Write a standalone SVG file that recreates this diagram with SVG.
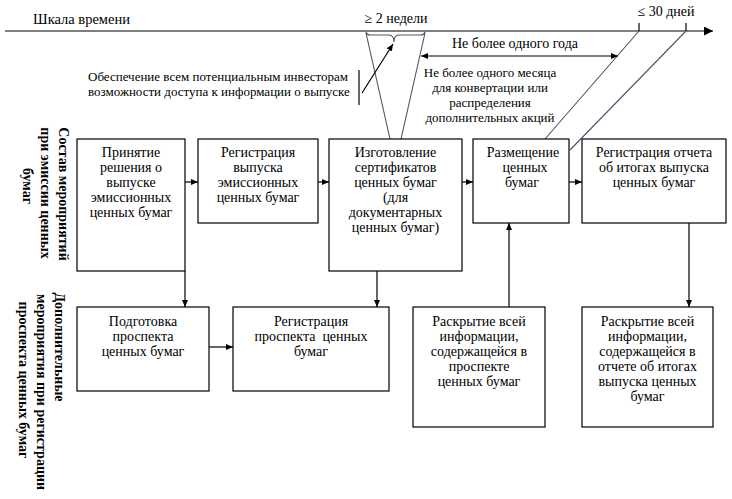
<svg xmlns="http://www.w3.org/2000/svg" width="732" height="499" viewBox="0 0 732 499">
<defs>
<marker id="ah" markerWidth="7" markerHeight="6" refX="7" refY="3" orient="auto" markerUnits="userSpaceOnUse"><path d="M0,0 L7,3 L0,6 z" fill="#000"/></marker>
<marker id="ahs" markerWidth="7" markerHeight="6" refX="0" refY="3" orient="auto" markerUnits="userSpaceOnUse"><path d="M7,0 L0,3 L7,6 z" fill="#000"/></marker>
<marker id="big" markerWidth="9" markerHeight="9" refX="9" refY="4.5" orient="auto" markerUnits="userSpaceOnUse"><path d="M0,0 L9,4.5 L0,9 z" fill="#000"/></marker>
<style>
.b{fill:#fff;stroke:#000;stroke-width:1.2}
.t{font-family:"Liberation Serif","Times New Roman",serif;font-size:14px;fill:#000;text-anchor:middle}
.s{font-family:"Liberation Serif","Times New Roman",serif;font-size:13px;fill:#000}
.v{font-family:"Liberation Serif","Times New Roman",serif;font-size:14px;font-weight:bold;fill:#000;text-anchor:middle}
.c{fill:none;stroke:#000;stroke-width:1.2}
.g{fill:none;stroke:#5a4c66;stroke-width:1.1}
</style>
</defs>
<g id="timeline">
<line class="c" x1="5" y1="31" x2="713" y2="31" marker-end="url(#big)"/>
<line class="c" x1="639" y1="23" x2="639" y2="31"/>
<line class="c" x1="686" y1="23" x2="686" y2="31"/>
<text class="s" x="33" y="24" style="font-size:14.5px">Шкала времени</text>
<text class="s" x="396" y="23" style="font-size:14px;text-anchor:middle">≥ 2 недели</text>
<text class="s" x="666" y="16" style="font-size:14px;text-anchor:middle">≤ 30 дней</text>
</g>
<g id="annotations">
<line class="g" x1="366" y1="33" x2="390" y2="139"/>
<line class="g" x1="425" y1="33" x2="401" y2="139"/>
<path class="g" d="M366,32 Q367,35 370,35 L389,35 Q394,35 394,42 Q394,35 399,35 L421,35 Q424,35 425,32"/>
<line class="g" x1="639" y1="31" x2="545" y2="139"/>
<line class="g" x1="686" y1="31" x2="570" y2="150"/>
<line class="c" x1="362" y1="93" x2="393" y2="44" marker-end="url(#ah)"/>
<line class="c" x1="359" y1="70" x2="359" y2="105"/>
<line class="c" x1="421" y1="56" x2="618" y2="56" marker-start="url(#ahs)" marker-end="url(#ah)"/>
<text class="s" x="515" y="48" style="font-size:14px;text-anchor:middle">Не более одного года</text>
<text class="s" x="88" y="81">Обеспечение всем потенциальным инвесторам</text>
<text class="s" x="88" y="96">возможности доступа к информации о выпуске</text>
<text class="s" x="490" y="77" style="text-anchor:middle">Не более одного месяца</text>
<text class="s" x="490" y="92" style="text-anchor:middle">для конвертации или</text>
<text class="s" x="490" y="107" style="text-anchor:middle">распределения</text>
<text class="s" x="490" y="122" style="text-anchor:middle">дополнительных акций</text>
</g>
<g id="label-top">
<text class="v" transform="translate(59,194) rotate(90)">Состав мероприятий</text>
<text class="v" transform="translate(41,193) rotate(90)">при эмиссии ценных</text>
<text class="v" transform="translate(23,186) rotate(90)">бумаг</text>
</g>
<g id="label-bottom">
<text class="v" transform="translate(55,347) rotate(90)">Дополнительные</text>
<text class="v" transform="translate(37,392) rotate(90)">мероприятия при регистрации</text>
<text class="v" transform="translate(19,380) rotate(90)">проспекта ценных бумаг</text>
</g>
<g id="connectors">
<line class="c" x1="185" y1="182" x2="198" y2="182" marker-end="url(#ah)"/>
<line class="c" x1="318" y1="182" x2="329" y2="182" marker-end="url(#ah)"/>
<line class="c" x1="462" y1="182" x2="473" y2="182" marker-end="url(#ah)"/>
<line class="c" x1="569" y1="182" x2="582" y2="182" marker-end="url(#ah)"/>
<line class="c" x1="185" y1="271" x2="185" y2="307" marker-end="url(#ah)"/>
<line class="c" x1="377" y1="271" x2="377" y2="307" marker-end="url(#ah)"/>
<line class="c" x1="209" y1="347" x2="233" y2="347" marker-end="url(#ah)"/>
<line class="c" x1="509" y1="307" x2="509" y2="223" marker-end="url(#ah)"/>
<line class="c" x1="689" y1="223" x2="689" y2="307" marker-end="url(#ah)"/>
</g>
<g id="n1">
<rect class="b" x="77" y="139" width="108" height="132"/>
<text class="t" x="131" y="157">Принятие</text>
<text class="t" x="131" y="172">решения о</text>
<text class="t" x="131" y="187">выпуске</text>
<text class="t" x="131" y="202">эмиссионных</text>
<text class="t" x="131" y="217">ценных бумаг</text>
</g>
<g id="n2">
<rect class="b" x="198" y="139" width="120" height="84"/>
<text class="t" x="258" y="157">Регистрация</text>
<text class="t" x="258" y="172">выпуска</text>
<text class="t" x="258" y="187">эмиссионных</text>
<text class="t" x="258" y="202">ценных бумаг</text>
</g>
<g id="n3">
<rect class="b" x="329" y="139" width="133" height="132"/>
<text class="t" x="395.5" y="157">Изготовление</text>
<text class="t" x="395.5" y="172">сертификатов</text>
<text class="t" x="395.5" y="187">ценных бумаг</text>
<text class="t" x="395.5" y="202">(для</text>
<text class="t" x="395.5" y="217">документарных</text>
<text class="t" x="395.5" y="232">ценных бумаг)</text>
</g>
<g id="n4">
<rect class="b" x="473" y="139" width="96" height="84"/>
<text class="t" x="523" y="157">Размещение</text>
<text class="t" x="525" y="172">ценных</text>
<text class="t" x="522" y="187">бумаг</text>
</g>
<g id="n5">
<rect class="b" x="582" y="139" width="144" height="84"/>
<text class="t" x="654" y="157">Регистрация отчета</text>
<text class="t" x="654" y="172">об итогах выпуска</text>
<text class="t" x="654" y="187">ценных бумаг</text>
</g>
<g id="n6">
<rect class="b" x="77" y="307" width="132" height="84"/>
<text class="t" x="143" y="326">Подготовка</text>
<text class="t" x="143" y="341">проспекта</text>
<text class="t" x="143" y="356">ценных бумаг</text>
</g>
<g id="n7">
<rect class="b" x="233" y="307" width="156" height="84"/>
<text class="t" x="311" y="326">Регистрация</text>
<text class="t" x="311" y="341" xml:space="preserve">проспекта  ценных</text>
<text class="t" x="311" y="356">бумаг</text>
</g>
<g id="n8">
<rect class="b" x="413" y="307" width="132" height="120"/>
<text class="t" x="479" y="326">Раскрытие всей</text>
<text class="t" x="479" y="341">информации,</text>
<text class="t" x="479" y="356">содержащейся в</text>
<text class="t" x="479" y="371">проспекте</text>
<text class="t" x="479" y="386">ценных бумаг</text>
</g>
<g id="n9">
<rect class="b" x="582" y="307" width="131" height="120"/>
<text class="t" x="647.5" y="326">Раскрытие всей</text>
<text class="t" x="647.5" y="341">информации,</text>
<text class="t" x="647.5" y="356">содержащейся в</text>
<text class="t" x="647.5" y="371">отчете об итогах</text>
<text class="t" x="647.5" y="386">выпуска ценных</text>
<text class="t" x="647.5" y="401">бумаг</text>
</g>
</svg>
